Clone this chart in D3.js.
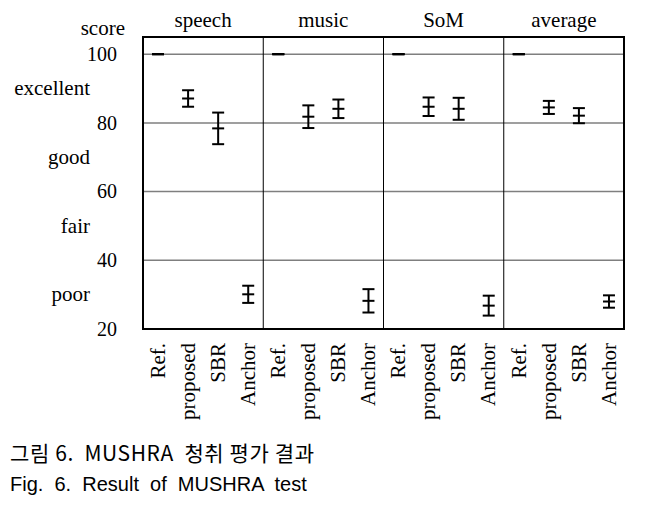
<!DOCTYPE html>
<html>
<head>
<meta charset="utf-8">
<script src="https://cdn.jsdelivr.net/npm/d3@7"></script>
<style>
  body { margin: 0; background: #fff; }
  svg { display: block; }
</style>
</head>
<body>
<div id="chart"></div>
<script>
// MUSHRA results: mean score and 95% CI half-width per condition
const panels = ["speech", "music", "SoM", "average"];
const systems = ["Ref.", "proposed", "SBR", "Anchor"];
const meanScores = [
  [100, 87.1, 78.4, 30.1],
  [100, 81.8, 84.1, 28.2],
  [100, 84.7, 84.1, 26.8],
  [100, 84.5, 82.1, 28.0]
];
const ciHalf = [
  [0, 2.4, 4.6, 2.5],
  [0, 3.3, 2.7, 3.4],
  [0, 2.7, 3.2, 2.9],
  [0, 1.9, 2.2, 1.8]
];
const yTicks = [20, 40, 60, 80, 100];
const gridTicks = [40, 60, 80, 100];
const ratings = ["poor", "fair", "good", "excellent"];
const ratingMid = [30, 50, 70, 90];
const captionKo = "그림 6.  MUSHRA  청취 평가 결과";
const captionEn = "Fig.  6.  Result  of  MUSHRA  test";

const width = 645, height = 509;
const margin = {top: 37, right: 21, bottom: 180, left: 143};
const serif = "'Liberation Serif', 'Times New Roman', serif";

const svg = d3.select("#chart")
  .append("svg")
    .attr("width", width)
    .attr("height", height);

const x0 = d3.scaleBand()
    .domain(panels)
    .range([margin.left, width - margin.right]);

const x1 = d3.scaleBand()
    .domain(systems)
    .range([0, x0.bandwidth()]);

const y = d3.scaleLinear()
    .domain([20, 105])
    .range([height - margin.bottom, margin.top]);

// gridlines
svg.append("g")
  .selectAll("line")
  .data(gridTicks)
  .join("line")
    .attr("x1", margin.left)
    .attr("x2", width - margin.right)
    .attr("y1", d => y(d))
    .attr("y2", d => y(d))
    .attr("stroke", "#7f7f7f")
    .attr("stroke-width", 1.5);

// panel dividers
svg.append("g")
  .selectAll("line")
  .data(panels.slice(1))
  .join("line")
    .attr("x1", d => x0(d))
    .attr("x2", d => x0(d))
    .attr("y1", y(105))
    .attr("y2", y(20))
    .attr("stroke", "#000")
    .attr("stroke-width", 1);

// frame
svg.append("rect")
    .attr("x", margin.left)
    .attr("y", y(105))
    .attr("width", width - margin.right - margin.left)
    .attr("height", y(20) - y(105))
    .attr("fill", "none")
    .attr("stroke", "#000")
    .attr("stroke-width", 2);

// y axis numbers
const yAxis = d3.axisLeft(y)
    .tickValues(yTicks)
    .tickSize(0)
    .tickPadding(26);

svg.append("g")
    .attr("transform", `translate(${margin.left},0)`)
    .call(yAxis)
    .call(g => g.select(".domain").remove())
    .call(g => g.selectAll("text")
        .attr("font-family", serif)
        .attr("font-size", 20)
        .attr("fill", "#000"));

// rating words
svg.append("g")
  .selectAll("text")
  .data(ratings)
  .join("text")
    .attr("x", 90)
    .attr("y", (d, i) => y(ratingMid[i]))
    .attr("dy", "0.32em")
    .attr("text-anchor", "end")
    .attr("font-family", serif)
    .attr("font-size", 21)
    .text(d => d);

svg.append("text")
    .attr("x", 125)
    .attr("y", 35)
    .attr("text-anchor", "end")
    .attr("font-family", serif)
    .attr("font-size", 21)
    .text("score");

// panel titles
svg.append("g")
  .selectAll("text")
  .data(panels)
  .join("text")
    .attr("x", d => x0(d) + x0.bandwidth() / 2)
    .attr("y", 27)
    .attr("text-anchor", "middle")
    .attr("font-family", serif)
    .attr("font-size", 21)
    .text(d => d);

// error bars
const cells = panels.flatMap((p, i) => systems.map((s, j) => ({
  panel: p, system: s, mean: meanScores[i][j], ci: ciHalf[i][j]
})));

const cap = 12;
const bars = svg.append("g")
    .attr("stroke", "#000")
    .attr("stroke-width", 2)
  .selectAll("g")
  .data(cells)
  .join("g")
    .attr("transform", d => `translate(${x0(d.panel) + x1(d.system) + x1.bandwidth() / 2},0)`);

bars.append("line")
    .attr("y1", d => y(d.mean - d.ci))
    .attr("y2", d => y(d.mean + d.ci));

bars.selectAll(".tick-h")
  .data(d => [d.mean - d.ci, d.mean, d.mean + d.ci])
  .join("line")
    .attr("class", "tick-h")
    .attr("x1", -cap / 2)
    .attr("x2", cap / 2)
    .attr("y1", v => y(v))
    .attr("y2", v => y(v));

// category labels
svg.append("g")
  .selectAll("text")
  .data(cells)
  .join("text")
    .attr("transform", d => `translate(${x0(d.panel) + x1(d.system) + x1.bandwidth() / 2},343) rotate(-90)`)
    .attr("dy", "0.32em")
    .attr("text-anchor", "end")
    .attr("font-family", serif)
    .attr("font-size", 21)
    .text(d => d.system);

// caption
svg.append("text")
    .attr("x", 10)
    .attr("y", 461)
    .attr("font-family", "'Noto Sans CJK KR', 'Liberation Sans', sans-serif")
    .attr("font-size", 21)
    .attr("letter-spacing", 0.6)
    .style("white-space", "pre")
    .text(captionKo);

svg.append("text")
    .attr("x", 10)
    .attr("y", 491)
    .attr("font-family", "'Liberation Sans', Arial, sans-serif")
    .attr("font-size", 20)
    .style("white-space", "pre")
    .text(captionEn);
</script>
</body>
</html>
